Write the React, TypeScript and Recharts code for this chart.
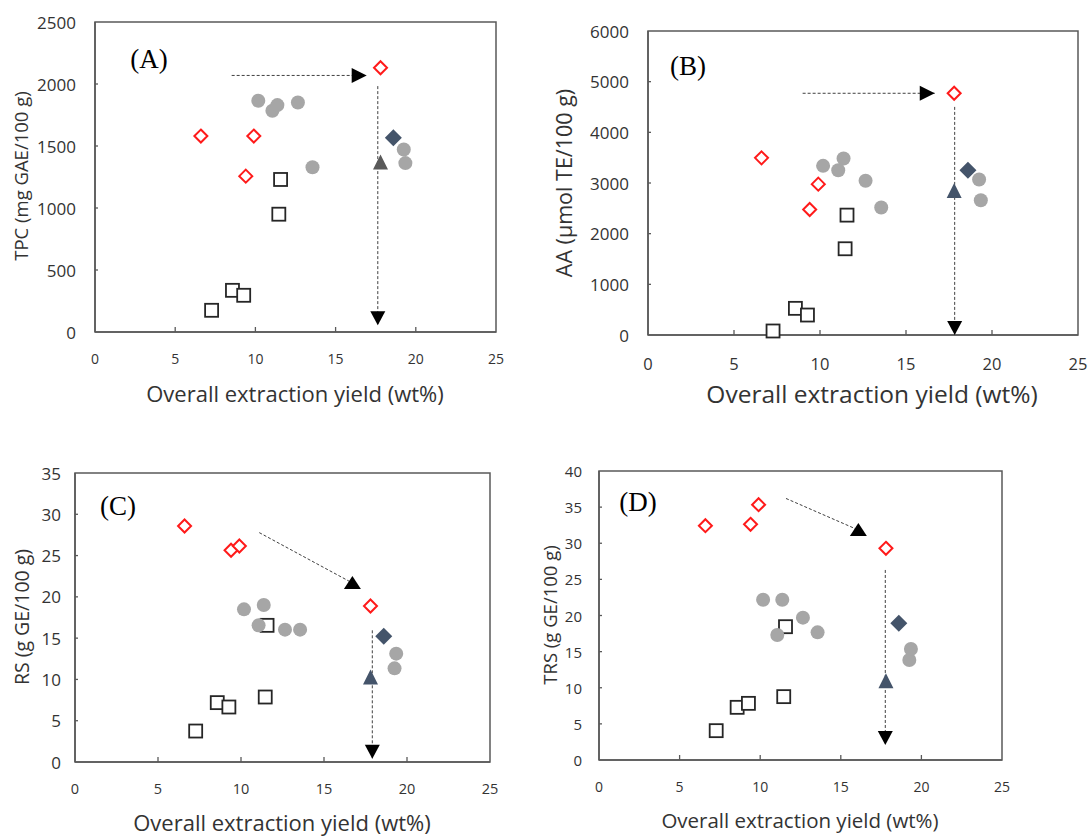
import { ScatterChart, Scatter, XAxis, YAxis, ReferenceLine, ReferenceArea } from "recharts"

// shared x positions (overall extraction yield, wt%) for each sample group
const yieldTicks = [0, 5, 10, 15, 20, 25]
const redX = [6.6, 9.4, 9.9, 17.8]
const greyX = [10.18, 11.06, 11.37, 12.65, 13.56, 19.25, 19.35]
const squareX = [7.27, 8.57, 9.27, 11.46, 11.57]
const diamondX = [18.6]
const triangleX = [17.8]

// (A) TPC
const tpcTicks = [0, 500, 1000, 1500, 2000, 2500]
const tpcRed = [1580, 1257, 1580, 2131]
const tpcGrey = [1865, 1784, 1830, 1851, 1329, 1472, 1362]
const tpcSquare = [175, 336, 296, 950, 1230]
const tpcDiamond = [1566]
const tpcTriangle = [1370]
const tpcArrow = { x: [8.52, 16.94], y: [2069, 2069] }
const tpcDrop = { x: [17.63, 17.63], y: [1983, 54] }

// (B) AA
const aaTicks = [0, 1000, 2000, 3000, 4000, 5000, 6000]
const aaRed = [3496, 2477, 2977, 4771]
const aaGrey = [3338, 3253, 3483, 3043, 2517, 3069, 2661]
const aaSquare = [79, 526, 394, 1702, 2366]
const aaDiamond = [3253]
const aaTriangle = [2852]
const aaArrow = { x: [8.99, 16.67], y: [4771, 4771] }
const aaDrop = { x: [17.83, 17.83], y: [4502, 0] }

// (C) RS
const rsTicks = [0, 5, 10, 15, 20, 25, 30, 35]
const rsRed = [28.58, 25.64, 26.16, 18.89]
const rsGrey = [18.49, 16.55, 19.01, 16.03, 16.03, 11.34, 13.12]
const rsSquare = [3.75, 7.19, 6.66, 7.87, 16.55]
const rsDiamond = [15.22]
const rsTriangle = [10.3]
const rsArrow = { x: [11.1, 16.71], y: [27.78, 21.68] }
const rsDrop = { x: [17.91, 17.91], y: [15.95, 0.4] }

// (D) TRS
const trsTicks = [0, 5, 10, 15, 20, 25, 30, 35, 40]
const trsRed = [32.43, 32.62, 35.34, 29.3]
const trsGrey = [22.19, 17.3, 22.19, 19.7, 17.67, 13.84, 15.36]
const trsSquare = [4.06, 7.29, 7.84, 8.77, 18.45]
const trsDiamond = [18.92]
const trsTriangle = [10.98]
const trsArrow = { x: [11.6, 16.09], y: [36.2, 31.83] }
const trsDrop = { x: [17.76, 17.76], y: [26.3, 2.08] }

const pts = (xs: number[], ys: number[]) => xs.map((x, i) => ({ x, y: ys[i] }))

const axisColor = "#595959"
const textColor = "#333333"
const sans = "'Open Sans', sans-serif"

const RedDiamond = ({ cx, cy }: any) => (
  <polygon
    points={`${cx},${cy - 6.5} ${cx + 6.5},${cy} ${cx},${cy + 6.5} ${cx - 6.5},${cy}`}
    fill="#fff"
    stroke="#ff1a1a"
    strokeWidth={2}
  />
)
const GreyDot = ({ cx, cy }: any) => <circle cx={cx} cy={cy} r={7} fill="#a6a6a6" />
const OpenSquare = ({ cx, cy }: any) => (
  <rect x={cx - 6.5} y={cy - 6.5} width={13} height={13} fill="#fff" stroke="#262626" strokeWidth={1.8} />
)
const DarkDiamond = ({ cx, cy }: any) => (
  <polygon points={`${cx},${cy - 8.5} ${cx + 8.5},${cy} ${cx},${cy + 8.5} ${cx - 8.5},${cy}`} fill="#44546a" />
)
const makeTriangle = (fill: string) => ({ cx, cy }: any) => (
  <polygon points={`${cx},${cy - 7.5} ${cx + 7.5},${cy + 7.5} ${cx - 7.5},${cy + 7.5}`} fill={fill} />
)
const HeadRight = ({ cx, cy }: any) => (
  <polygon points={`${cx},${cy} ${cx - 15},${cy - 7.5} ${cx - 15},${cy + 7.5}`} fill="#000" />
)
const HeadDown = ({ cx, cy }: any) => (
  <polygon points={`${cx},${cy} ${cx - 7.5},${cy - 14} ${cx + 7.5},${cy - 14}`} fill="#000" />
)
const HeadUp = ({ cx, cy }: any) => (
  <polygon points={`${cx},${cy - 7} ${cx + 8.5},${cy + 6} ${cx - 8.5},${cy + 6}`} fill="#000" />
)

type Layout = {
  left: number
  top: number
  width: number
  height: number
  plot: { l: number; t: number; r: number; b: number }
  yTickSize: number
  yTickGap: number
  xTickSize: number
  xTickGap: number
}

type PanelData = {
  yTicks: number[]
  red: number[]
  grey: number[]
  square: number[]
  diamond: number[]
  triangle: number[]
  triangleColor: string
  arrow: { x: number[]; y: number[] }
  drop: { x: number[]; y: number[] }
  diagonal: boolean
}

function Panel({ lay, d }: { lay: Layout; d: PanelData }) {
  const yMax = d.yTicks[d.yTicks.length - 1]
  const line = (s: { x: number[]; y: number[] }) => [
    { x: s.x[0], y: s.y[0] },
    { x: s.x[1], y: s.y[1] },
  ]
  return (
    <div style={{ position: "absolute", left: lay.left, top: lay.top }}>
      <ScatterChart
        width={lay.width}
        height={lay.height}
        margin={{ top: lay.plot.t, right: lay.width - lay.plot.r, left: 0, bottom: 0 }}
      >
        <ReferenceArea x1={0} x2={25} y1={0} y2={yMax} fill="none" stroke={axisColor} strokeWidth={1.5} />
        <XAxis
          type="number"
          dataKey="x"
          domain={[0, 25]}
          ticks={yieldTicks}
          height={lay.height - lay.plot.b}
          tickSize={0}
          tickMargin={0}
          tickLine={false}
          axisLine={{ stroke: axisColor, strokeWidth: 1.5 }}
          tick={(p: any) => (
            <g>
              {p.payload.value > 0 && p.payload.value < 25 && (
                <line x1={p.x} x2={p.x} y1={p.y} y2={p.y - 5} stroke={axisColor} strokeWidth={1.3} />
              )}
              <text
                x={p.x}
                y={p.y + lay.xTickGap}
                textAnchor="middle"
                dominantBaseline="central"
                fontSize={lay.xTickSize}
                fontFamily={sans}
                fill={textColor}
              >
                {p.payload.value}
              </text>
            </g>
          )}
        />
        <YAxis
          type="number"
          dataKey="y"
          domain={[0, yMax]}
          ticks={d.yTicks}
          width={lay.plot.l}
          tickSize={0}
          tickMargin={0}
          tickLine={false}
          axisLine={{ stroke: axisColor, strokeWidth: 1.5 }}
          tick={(p: any) => (
            <g>
              {p.payload.value > 0 && p.payload.value < yMax && (
                <line x1={p.x} x2={p.x + 3} y1={p.y} y2={p.y} stroke={axisColor} strokeWidth={1.3} />
              )}
              <text
                x={p.x - lay.yTickGap}
                y={p.y}
                textAnchor="end"
                dominantBaseline="central"
                fontSize={lay.yTickSize}
                fontFamily={sans}
                fill={textColor}
              >
                {p.payload.value}
              </text>
            </g>
          )}
        />
        <ReferenceLine segment={line(d.arrow)} stroke="#404040" strokeWidth={1} strokeDasharray="3 2" />
        <ReferenceLine segment={line(d.drop)} stroke="#404040" strokeWidth={1} strokeDasharray="3 2" />
        <Scatter data={pts(squareX, d.square)} shape={OpenSquare} isAnimationActive={false} />
        <Scatter data={pts(greyX, d.grey)} shape={GreyDot} isAnimationActive={false} />
        <Scatter data={pts(redX, d.red)} shape={RedDiamond} isAnimationActive={false} />
        <Scatter data={pts(diamondX, d.diamond)} shape={DarkDiamond} isAnimationActive={false} />
        <Scatter data={pts(triangleX, d.triangle)} shape={makeTriangle(d.triangleColor)} isAnimationActive={false} />
        <Scatter
          data={[{ x: d.arrow.x[1], y: d.arrow.y[1] }]}
          shape={d.diagonal ? HeadUp : HeadRight}
          isAnimationActive={false}
        />
        <Scatter data={[{ x: d.drop.x[1], y: d.drop.y[1] }]} shape={HeadDown} isAnimationActive={false} />
      </ScatterChart>
    </div>
  )
}

const layA: Layout = {
  left: 0, top: 0, width: 540, height: 420,
  plot: { l: 95, t: 22, r: 496, b: 332 },
  yTickSize: 17, yTickGap: 19, xTickSize: 14, xTickGap: 26,
}
const layB: Layout = {
  left: 540, top: 0, width: 551, height: 420,
  plot: { l: 108, t: 31, r: 538, b: 335 },
  yTickSize: 17, yTickGap: 19, xTickSize: 16.5, xTickGap: 28,
}
const layC: Layout = {
  left: 0, top: 430, width: 540, height: 406,
  plot: { l: 75, t: 43, r: 490, b: 332 },
  yTickSize: 17, yTickGap: 14, xTickSize: 14.5, xTickGap: 26,
}
const layD: Layout = {
  left: 540, top: 430, width: 551, height: 406,
  plot: { l: 59, t: 41, r: 462, b: 330 },
  yTickSize: 15, yTickGap: 17, xTickSize: 14, xTickGap: 26,
}

const xTitle = "Overall extraction yield (wt%)"
const xTitles = [
  { x: 295, y: 393, size: 22 },
  { x: 872, y: 393, size: 24.5 },
  { x: 282, y: 822, size: 22 },
  { x: 800, y: 820, size: 20.5 },
]
const yTitles = [
  { text: "TPC (mg GAE/100 g)", x: 20, y: 176, size: 18.5 },
  { text: "AA (µmol TE/100 g)", x: 563, y: 183, size: 21.5 },
  { text: "RS (g GE/100 g)", x: 21, y: 617, size: 19.5 },
  { text: "TRS (g GE/100 g)", x: 549, y: 615, size: 18.5 },
]
const panelLabels = [
  { text: "(A)", x: 149, y: 68 },
  { text: "(B)", x: 688, y: 75 },
  { text: "(C)", x: 118, y: 515 },
  { text: "(D)", x: 638, y: 511 },
]

export default function App() {
  return (
    <div style={{ position: "absolute", left: 0, top: 0, width: 1091, height: 836, background: "#fff" }}>
      <Panel
        lay={layA}
        d={{
          yTicks: tpcTicks,
          red: tpcRed, grey: tpcGrey, square: tpcSquare, diamond: tpcDiamond, triangle: tpcTriangle,
          triangleColor: "#595959", arrow: tpcArrow, drop: tpcDrop, diagonal: false,
        }}
      />
      <Panel
        lay={layB}
        d={{
          yTicks: aaTicks,
          red: aaRed, grey: aaGrey, square: aaSquare, diamond: aaDiamond, triangle: aaTriangle,
          triangleColor: "#44546a", arrow: aaArrow, drop: aaDrop, diagonal: false,
        }}
      />
      <Panel
        lay={layC}
        d={{
          yTicks: rsTicks,
          red: rsRed, grey: rsGrey, square: rsSquare, diamond: rsDiamond, triangle: rsTriangle,
          triangleColor: "#44546a", arrow: rsArrow, drop: rsDrop, diagonal: true,
        }}
      />
      <Panel
        lay={layD}
        d={{
          yTicks: trsTicks,
          red: trsRed, grey: trsGrey, square: trsSquare, diamond: trsDiamond, triangle: trsTriangle,
          triangleColor: "#44546a", arrow: trsArrow, drop: trsDrop, diagonal: true,
        }}
      />
      <svg width={1091} height={836} style={{ position: "absolute", left: 0, top: 0, pointerEvents: "none" }}>
        {xTitles.map((t, i) => (
          <text
            key={"x" + i}
            x={t.x}
            y={t.y}
            textAnchor="middle"
            dominantBaseline="central"
            fontSize={t.size}
            fontFamily={sans}
            fill={textColor}
          >
            {xTitle}
          </text>
        ))}
        {yTitles.map((t) => (
          <text
            key={t.text}
            x={t.x}
            y={t.y}
            transform={`rotate(-90, ${t.x}, ${t.y})`}
            textAnchor="middle"
            dominantBaseline="central"
            fontSize={t.size}
            fontFamily={sans}
            fill={textColor}
          >
            {t.text}
          </text>
        ))}
        {panelLabels.map((p) => (
          <text key={p.text} x={p.x} y={p.y} textAnchor="middle" fontSize={27} fontFamily="'Liberation Serif', serif" fill="#000">
            {p.text}
          </text>
        ))}
      </svg>
    </div>
  )
}
